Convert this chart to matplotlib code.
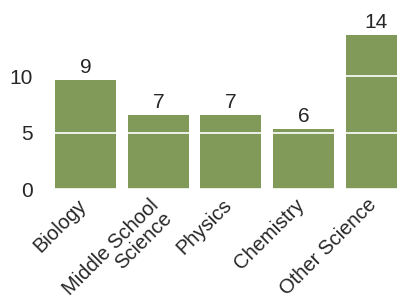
import matplotlib
matplotlib.use("Agg")
import matplotlib.pyplot as plt
from matplotlib.transforms import ScaledTranslation

# subjects and the bar heights
subjects = ["Biology", "Middle School\nScience", "Physics", "Chemistry", "Other Science"]
heights = [9.65, 6.55, 6.55, 5.3, 13.6]
# the numbers printed above the bars
value_labels = ["9", "7", "7", "6", "14"]
y_ticks = [0, 5, 10]

plt.rcParams["font.family"] = ["Liberation Sans", "DejaVu Sans"]
text_color = "#262626"
bar_color = "#819a59"

fig = plt.figure(figsize=(3.97, 2.97), dpi=100)
ax = fig.add_axes([0.1238, 0.3636, 0.9156, 0.6364])

x = list(range(len(subjects)))
ax.bar(x, heights, width=0.84, color=bar_color, zorder=1)

for xi, h, lab in zip(x, heights, value_labels):
    ax.text(xi, h + 0.3, lab, ha="center", va="bottom", fontsize=15, color=text_color)

ax.set_xlim(-0.5, 4.5)
ax.set_ylim(0, 16.73)
ax.set_yticks(y_ticks)
ax.set_yticklabels([str(t) for t in y_ticks], fontsize=15, color=text_color)
ax.set_xticks(x)
ax.set_xticklabels(subjects, rotation=45, ha="right", rotation_mode="anchor",
                   fontsize=14.5, color=text_color, linespacing=1.0)
ax.tick_params(axis="both", length=0)
ax.tick_params(axis="y", pad=12)
ax.tick_params(axis="x", pad=6)

# nudge the slanted labels a little left, as in the picture
shift = ScaledTranslation(-9 / 100, 2 / 100, fig.dpi_scale_trans)
for t in ax.get_xticklabels():
    t.set_transform(t.get_transform() + shift)

# white grid lines drawn across the bars
ax.set_axisbelow(False)
ax.yaxis.grid(True, color="white", linewidth=1.2)
ax.xaxis.grid(False)
for s in ax.spines.values():
    s.set_visible(False)

fig.savefig("out.png", dpi=100)
